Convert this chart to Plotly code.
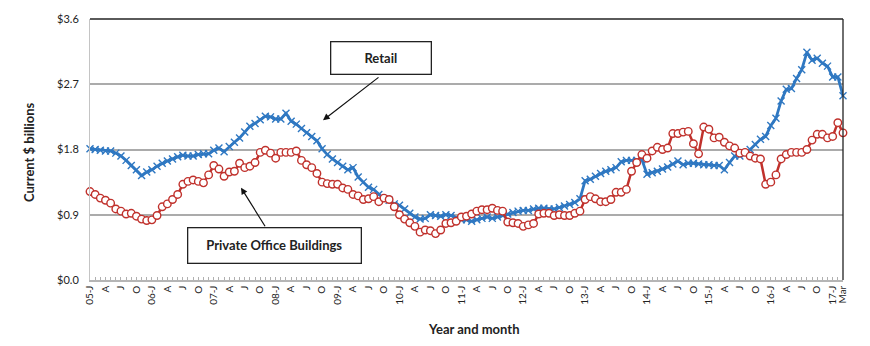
import plotly.graph_objects as go

# Monthly construction spending, Jan 2005 - Mar 2017 ($ billions)
retail = [
    1.81, 1.80, 1.79, 1.78, 1.78, 1.75, 1.71, 1.65, 1.58, 1.52, 1.44, 1.49,
    1.52, 1.57, 1.61, 1.64, 1.67, 1.70, 1.72, 1.71, 1.71, 1.73, 1.74, 1.74,
    1.79, 1.82, 1.77, 1.84, 1.90, 1.96, 2.04, 2.12, 2.16, 2.21, 2.26, 2.25,
    2.22, 2.22, 2.30, 2.19, 2.15, 2.09, 2.03, 1.98, 1.92, 1.81, 1.73, 1.67,
    1.62, 1.57, 1.52, 1.55, 1.42, 1.35, 1.28, 1.25, 1.18, 1.12, 1.10, 1.05,
    1.03, 0.98, 0.92, 0.87, 0.84, 0.85, 0.90, 0.89, 0.88, 0.90, 0.89, 0.86,
    0.83, 0.83, 0.81, 0.83, 0.85, 0.87, 0.85, 0.87, 0.89, 0.91, 0.93, 0.95,
    0.96, 0.96, 0.98, 0.99, 0.99, 0.98, 0.98, 1.00, 1.02, 1.04, 1.07, 1.12,
    1.37, 1.39, 1.43, 1.47, 1.50, 1.52, 1.55, 1.63, 1.65, 1.65, 1.65, 1.66,
    1.46, 1.48, 1.50, 1.53, 1.56, 1.60, 1.64, 1.59, 1.61, 1.61, 1.60, 1.59,
    1.59, 1.58, 1.58, 1.52, 1.62, 1.71, 1.71, 1.74, 1.80, 1.87, 1.94, 1.98,
    2.13, 2.23, 2.47, 2.63, 2.64, 2.78, 2.90, 3.14, 3.03, 3.06, 2.99, 2.95,
    2.80, 2.80, 2.54,
]
office = [
    1.22, 1.18, 1.13, 1.10, 1.06, 0.98, 0.95, 0.91, 0.92, 0.88, 0.84, 0.82,
    0.83, 0.89, 1.01, 1.05, 1.11, 1.18, 1.32, 1.36, 1.38, 1.36, 1.34, 1.45,
    1.58, 1.53, 1.43, 1.49, 1.50, 1.61, 1.55, 1.57, 1.62, 1.76, 1.79, 1.75,
    1.68, 1.76, 1.76, 1.76, 1.78, 1.65, 1.59, 1.55, 1.47, 1.35, 1.33, 1.32,
    1.32, 1.27, 1.25, 1.18, 1.16, 1.11, 1.12, 1.15, 1.08, 1.13, 1.11, 1.01,
    0.90, 0.84, 0.79, 0.74, 0.66, 0.69, 0.68, 0.64, 0.69, 0.78, 0.79, 0.81,
    0.87, 0.88, 0.91, 0.95, 0.97, 0.97, 0.99, 0.96, 0.95, 0.80, 0.79, 0.78,
    0.74, 0.76, 0.78, 0.91, 0.92, 0.92, 0.89, 0.90, 0.89, 0.89, 0.92, 0.95,
    1.11, 1.15, 1.12, 1.08, 1.08, 1.11, 1.21, 1.21, 1.25, 1.50, 1.62, 1.73,
    1.68, 1.78, 1.83, 1.80, 1.82, 2.02, 2.02, 2.04, 2.05, 1.88, 1.74, 2.11,
    2.08, 1.96, 1.97, 1.90, 1.85, 1.82, 1.75, 1.76, 1.71, 1.68, 1.67, 1.32,
    1.35, 1.45, 1.67, 1.73, 1.76, 1.76, 1.76, 1.80, 1.93, 2.01, 2.01, 1.96,
    1.98, 2.17, 2.03,
]

# Category labels: year at January, month initial every quarter, last month spelled out
quarter_initials = {0: "J", 3: "A", 6: "J", 9: "O"}
months = list(range(len(retail)))
tick_vals, tick_text = [], []
for m in months:
    q = m % 12
    if q in quarter_initials:
        tick_vals.append(m)
        tick_text.append(f"{5 + m // 12:02d}-J" if q == 0 else quarter_initials[q])
tick_vals.append(months[-1])
tick_text.append("Mar")

y_ticks = [0.0, 0.9, 1.8, 2.7, 3.6]

BLUE = "#2f78c2"
RED = "#c0312c"
FONT = "Lato"

fig = go.Figure()
fig.add_trace(go.Scatter(
    x=months, y=retail, mode="lines+markers", name="Retail",
    line=dict(color=BLUE, width=2.8),
    marker=dict(symbol="x-thin", size=7, color=BLUE, line=dict(color=BLUE, width=1.4)),
    cliponaxis=False,
))
fig.add_trace(go.Scatter(
    x=months, y=office, mode="lines+markers", name="Private Office Buildings",
    line=dict(color=RED, width=2.5),
    marker=dict(symbol="circle", size=7.5, color="white", line=dict(color=RED, width=1.4)),
    cliponaxis=False,
))

L, R, T, B = 90, 27, 17, 66
W, H = 870, 346
pw, ph = W - L - R, H - T - B


def px_x(px):
    return (px - L) / pw


def px_y(py):
    return (H - B - py) / ph


annotations = [
    # Callout boxes
    dict(text="<b>Retail</b>", x=px_x(381), y=px_y(56.5), xref="paper", yref="paper",
         xanchor="center", yanchor="middle",
         showarrow=False, width=99, height=31, bgcolor="white", bordercolor="#222",
         borderwidth=1.3, borderpad=0, font=dict(family=FONT, size=13, color="#222")),
    dict(text="<b>Private Office Buildings</b>", x=px_x(274.5), y=px_y(245), xref="paper",
         yref="paper", xanchor="center", yanchor="middle",
         showarrow=False, width=172, height=34, bgcolor="white",
         bordercolor="#222", borderwidth=1.3, borderpad=0,
         font=dict(family=FONT, size=13, color="#222")),
    # Callout arrows
    dict(text="", x=px_x(323), y=px_y(119), xref="paper", yref="paper", showarrow=True,
         ax=57, ay=-44, arrowhead=2, arrowsize=1.1, arrowwidth=1.2, arrowcolor="#111"),
    dict(text="", x=px_x(241), y=px_y(187), xref="paper", yref="paper", showarrow=True,
         ax=25, ay=40, arrowhead=2, arrowsize=1.1, arrowwidth=1.2, arrowcolor="#111"),
    # Axis titles
    dict(text="<b>Current $ billions</b>", x=px_x(29), y=px_y(152), xref="paper",
         yref="paper", xanchor="center", yanchor="middle", showarrow=False, textangle=-90,
         font=dict(family=FONT, size=13, color="#222")),
    dict(text="<b>Year and month</b>", x=px_x(473), y=px_y(329), xref="paper",
         yref="paper", xanchor="center", yanchor="middle", showarrow=False,
         font=dict(family=FONT, size=13, color="#222")),
]

shapes = [
    dict(type="line", xref="paper", yref="paper", x0=0, x1=1, y0=1, y1=1,
         line=dict(color="#5a5a5a", width=2)),
    dict(type="line", xref="paper", yref="paper", x0=1, x1=1, y0=0, y1=1,
         line=dict(color="#222", width=1.3)),
]

fig.update_layout(
    width=W, height=H, margin=dict(l=L, r=R, t=T, b=B),
    paper_bgcolor="white", plot_bgcolor="white", showlegend=False,
    font=dict(family=FONT, color="#222"),
    annotations=annotations, shapes=shapes,
    xaxis=dict(
        range=[0, months[-1]], tickmode="array", tickvals=tick_vals, ticktext=tick_text,
        tickangle=-90, tickfont=dict(family=FONT, size=10, color="#222"),
        ticks="inside", ticklen=3, tickcolor="#b0b0b0", tickwidth=1,
        minor=dict(dtick=1, ticks="inside", ticklen=3, tickcolor="#b0b0b0", tickwidth=1),
        showgrid=False, zeroline=False, showline=True, linecolor="#b5b5b5", linewidth=1.5,
    ),
    yaxis=dict(
        range=[0, 3.6], tickmode="array", tickvals=y_ticks,
        ticktext=[f"${v:.1f}" for v in y_ticks],
        tickfont=dict(family=FONT, size=11, color="#222"), ticks="", ticklabelstandoff=8,
        showgrid=True, gridcolor="#ababab", gridwidth=1.5, zeroline=False,
        showline=True, linecolor="#c4c4c4", linewidth=1,
    ),
)

fig.write_html("out.html")
